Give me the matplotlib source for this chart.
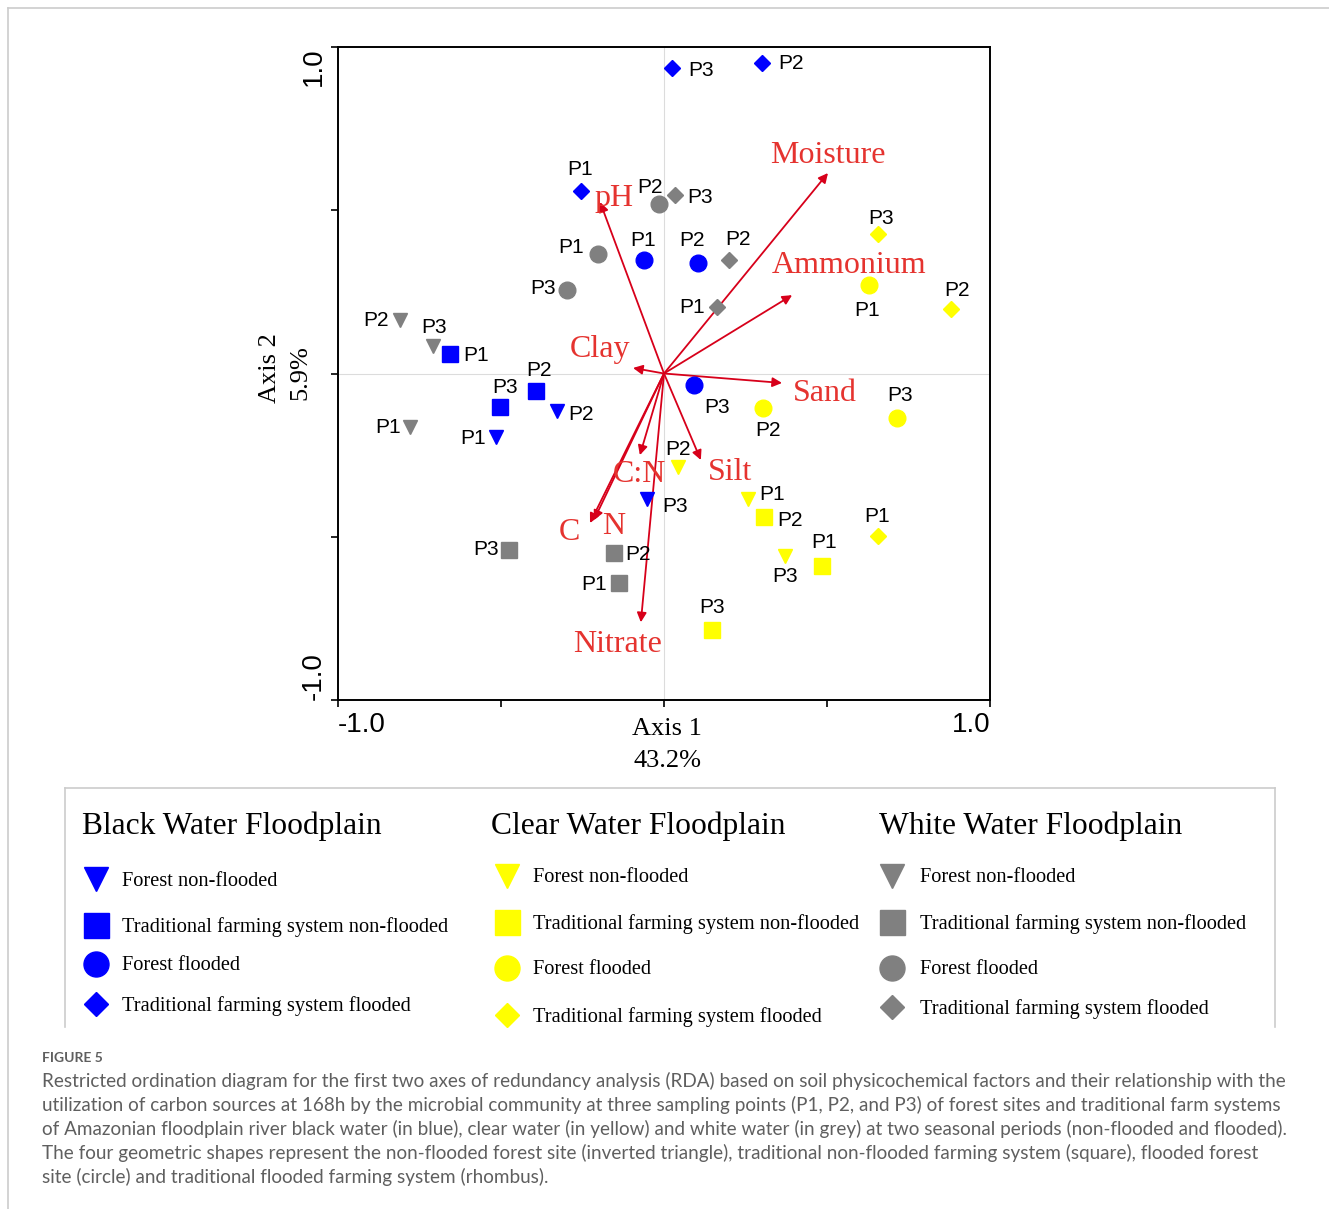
import matplotlib.pyplot as plt
from matplotlib.lines import Line2D

# RDA site scores (Axis 1, Axis 2) for P1, P2, P3
# black water (blue)
blue_forest_nf = [(-0.515, -0.195), (-0.328, -0.115), (-0.052, -0.385)]
blue_farm_nf = [(-0.656, 0.060), (-0.393, -0.054), (-0.503, -0.103)]
blue_forest_fl = [(-0.061, 0.347), (0.104, 0.337), (0.092, -0.035)]
blue_farm_fl = [(-0.255, 0.559), (0.301, 0.952), (0.025, 0.937)]
# clear water (yellow)
yel_forest_nf = [(0.258, -0.384), (0.043, -0.286), (0.371, -0.559)]
yel_farm_nf = [(0.485, -0.590), (0.307, -0.440), (0.147, -0.785)]
yel_forest_fl = [(0.629, 0.271), (0.304, -0.106), (0.715, -0.136)]
yel_farm_fl = [(0.656, -0.498), (0.880, 0.197), (0.656, 0.427)]
# white water (grey)
grey_forest_nf = [(-0.779, -0.164), (-0.810, 0.164), (-0.709, 0.084)]
grey_farm_nf = [(-0.138, -0.642), (-0.153, -0.550), (-0.475, -0.541)]
grey_forest_fl = [(-0.202, 0.366), (-0.015, 0.519), (-0.298, 0.256)]
grey_farm_fl = [(0.163, 0.204), (0.199, 0.348), (0.034, 0.548)]

point_names = ["P1", "P2", "P3"]

# soil variables (biplot arrows)
env_names = ["Moisture", "Ammonium", "pH", "Clay", "Sand", "Silt", "C:N", "C", "N", "Nitrate"]
env_x = [0.503, 0.393, -0.196, -0.095, 0.362, 0.113, -0.074, -0.227, -0.215, -0.071]
env_y = [0.614, 0.240, 0.525, 0.017, -0.029, -0.265, -0.250, -0.458, -0.449, -0.762]

groups = ["Black Water Floodplain", "Clear Water Floodplain", "White Water Floodplain"]
site_types = ["Forest non-flooded", "Traditional farming system non-flooded",
              "Forest flooded", "Traditional farming system flooded"]

# label offsets in pixels (dx, dy) for each P label
lab_off = {
    "bfn": [(-23, 0), (24, -2), (28, -6)],
    "bsn": [(26, -1), (3, 22), (5, 21)],
    "bff": [(-1, 21), (-6, 24), (23, -22)],
    "bfl": [(-1, 22), (29, 0), (29, -2)],
    "yfn": [(24, 5), (0, 18), (0, -19)],
    "ysn": [(2, 25), (26, -2), (0, 23)],
    "yff": [(-2, -24), (5, -21), (3, 23)],
    "yfl": [(-1, 21), (6, 20), (3, 17)],
    "gfn": [(-22, 1), (-24, 0), (1, 20)],
    "gsn": [(-25, 0), (24, 0), (-23, 2)],
    "gff": [(-27, 8), (-9, 18), (-24, 2)],
    "gfl": [(-25, 0), (9, 21), (25, -2)],
}

blue = "#0000ff"
yellow = "#ffff00"
grey = "#808080"
red_line = "#d7001a"
red_text = "#e5332f"
serif = "Liberation Serif"

fig = plt.figure(figsize=(13.29, 12.09), dpi=100)
W, H = 1329, 1209


def fx(px):
    return px / W


def fy(py):
    return 1 - py / H


ax = fig.add_axes([fx(338), fy(700), fx(990) - fx(338), fy(47) - fy(700)])
ax.set_xlim(-1, 1)
ax.set_ylim(-1, 1)
ax.axhline(0, color="#dcdcdc", lw=0.8, zorder=0)
ax.axvline(0, color="#dcdcdc", lw=0.8, zorder=0)

# arrows
for name, x, y in zip(env_names, env_x, env_y):
    ax.annotate("", xy=(x, y), xytext=(0, 0),
                arrowprops=dict(arrowstyle="-|>", color=red_line, lw=1.3,
                                mutation_scale=14, shrinkA=0, shrinkB=0), zorder=2)

# arrow labels (pixel offsets from arrow tip)
env_lab_off = [(0, 18), (57, 30), (14, 4), (-33, 18), (43, -11), (29, -12),
               (0, -19), (-21, -9), (20, -6), (-23, -22)]
for name, x, y, off in zip(env_names, env_x, env_y, env_lab_off):
    ax.annotate(name, xy=(x, y), xytext=off, textcoords="offset pixels",
                ha="center", va="center", fontsize=23, family=serif,
                color=red_text, zorder=3)

series = [
    ("bfn", blue_forest_nf, blue, "v", 10.5),
    ("bsn", blue_farm_nf, blue, "s", 12),
    ("bff", blue_forest_fl, blue, "o", 12),
    ("bfl", blue_farm_fl, blue, "D", 8.5),
    ("yfn", yel_forest_nf, yellow, "v", 10.5),
    ("ysn", yel_farm_nf, yellow, "s", 12),
    ("yff", yel_forest_fl, yellow, "o", 12),
    ("yfl", yel_farm_fl, yellow, "D", 8.5),
    ("gfn", grey_forest_nf, grey, "v", 10.5),
    ("gsn", grey_farm_nf, grey, "s", 12),
    ("gff", grey_forest_fl, grey, "o", 12),
    ("gfl", grey_farm_fl, grey, "D", 8.5),
]
for key, pts, col, mk, ms in series:
    xs = [p[0] for p in pts]
    ys = [p[1] for p in pts]
    ax.plot(xs, ys, linestyle="none", marker=mk, ms=ms, color=col, mec=col, zorder=4)
    for (x, y), nm, off in zip(pts, point_names, lab_off[key]):
        ax.annotate(nm, xy=(x, y), xytext=(off[0], off[1] - 1), textcoords="offset pixels",
                    ha="center", va="center", fontsize=15,
                    family="Liberation Sans", color="black", zorder=5)

ax.set_xticks([-1, -0.5, 0, 0.5, 1])
ax.set_yticks([-1, -0.5, 0, 0.5, 1])
ax.set_xticklabels([])
ax.set_yticklabels([])
ax.tick_params(direction="out", length=5, width=1.2, color="black")
for s in ax.spines.values():
    s.set_linewidth(1.4)

# tick labels and axis titles
fig.text(fx(338), fy(725), "-1.0", ha="left", va="center", fontsize=20, family="Liberation Sans")
fig.text(fx(990), fy(725), "1.0", ha="right", va="center", fontsize=20, family="Liberation Sans")
fig.text(fx(314), fy(47), "1.0", ha="center", va="top", rotation=90, fontsize=20, family="Liberation Sans")
fig.text(fx(314), fy(700), "-1.0", ha="center", va="bottom", rotation=90, fontsize=20, family="Liberation Sans")
fig.text(fx(667), fy(729), "Axis 1", ha="center", va="center", fontsize=19, family=serif)
fig.text(fx(667), fy(761), "43.2%", ha="center", va="center", fontsize=19, family=serif)
fig.text(fx(270), fy(368), "Axis 2", ha="center", va="center", rotation=90, fontsize=19, family=serif)
fig.text(fx(300), fy(373), "5.9%", ha="center", va="center", rotation=90, fontsize=19, family=serif)

# page frame and legend box
frame = "#cccccc"
fig.add_artist(Line2D([fx(8), fx(1329)], [fy(8), fy(8)], color=frame, lw=1.2))
fig.add_artist(Line2D([fx(8), fx(8)], [fy(8), fy(1209)], color=frame, lw=1.2))
fig.add_artist(Line2D([fx(65), fx(1275)], [fy(788), fy(788)], color=frame, lw=1.2))
fig.add_artist(Line2D([fx(65), fx(65)], [fy(788), fy(1027)], color=frame, lw=1.2))
fig.add_artist(Line2D([fx(1275), fx(1275)], [fy(788), fy(1027)], color=frame, lw=1.2))

# legend, built by hand in three columns
leg_cols = [blue, yellow, grey]
leg_marker_x = [96, 507, 892]
leg_text_x = [122, 533, 920]
leg_title_x = [82, 491, 879]
leg_rows = [[879, 925, 964, 1004], [876, 922, 968, 1015], [876, 922, 968, 1007]]
leg_markers = [("v", 17), ("s", 18), ("o", 18), ("D", 12)]
for g, col, mx, tx, ttx, rows in zip(groups, leg_cols, leg_marker_x, leg_text_x,
                                     leg_title_x, leg_rows):
    fig.text(fx(ttx), fy(826), g, ha="left", va="center", fontsize=22.7, family=serif)
    for (mk, ms), lab, ry in zip(leg_markers, site_types, rows):
        fig.add_artist(Line2D([fx(mx)], [fy(ry)], marker=mk, ms=ms, color=col,
                              mec=col, linestyle="none"))
        fig.text(fx(tx), fy(ry + 2), lab, ha="left", va="center", fontsize=14.7, family=serif)

# caption
cap_col = "#5f5f5f"
fig.text(fx(42), fy(1058), "FIGURE 5", ha="left", va="center", fontsize=10,
         fontweight="bold", family="Lato", color=cap_col)
caption = [
    "Restricted ordination diagram for the first two axes of redundancy analysis (RDA) based on soil physicochemical factors and their relationship with the",
    "utilization of carbon sources at 168h by the microbial community at three sampling points (P1, P2, and P3) of forest sites and traditional farm systems",
    "of Amazonian floodplain river black water (in blue), clear water (in yellow) and white water (in grey) at two seasonal periods (non-flooded and flooded).",
    "The four geometric shapes represent the non-flooded forest site (inverted triangle), traditional non-flooded farming system (square), flooded forest",
    "site (circle) and traditional flooded farming system (rhombus).",
]
for i, line in enumerate(caption):
    fig.text(fx(42), fy(1081 + 24 * i), line, ha="left", va="center", fontsize=13.6,
             family="Lato", color=cap_col)

fig.savefig("out.png", dpi=100)
